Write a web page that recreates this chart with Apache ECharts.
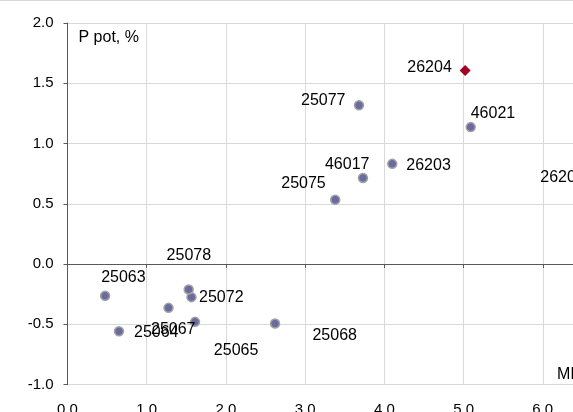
<!DOCTYPE html>
<html><head><meta charset="utf-8">
<script src="https://cdn.jsdelivr.net/npm/echarts@6/dist/echarts.min.js"></script>
<style>html,body{margin:0;padding:0;background:#fff}#c{width:573px;height:412px}</style>
</head><body><div id="c"></div>
<script>
// ---- data ----
const wellNames  = ['25075','25077','46017','46021','26203','26205','25063','25064','25067','25072','25078','25065','25068'];
const micValues  = [3.38, 3.68, 3.73, 5.09, 4.10, 6.60, 0.475, 0.65, 1.275, 1.565, 1.53, 1.61, 2.62];
const ppotValues = [0.533, 1.317, 0.714, 1.136, 0.831, 0.72, -0.264, -0.558, -0.364, -0.275, -0.211, -0.48, -0.494];
const highlightNames = ['26204'];
const highlightMic   = [5.02];
const highlightPpot  = [1.606];
const yAxisTitle = 'P pot, %';
const xAxisTitle = 'MIC';

// ---- label placement (layout, not data) ----
const labelOffsets = {
  '25075': [-31, -15], '25077': [-35, -4], '46017': [-15, -13], '46021': [23, -13],
  '26203': [37, 2], '26205': [-27, 1], '25063': [19, -17.5], '25064': [38, 2],
  '25067': [5.5, 22], '25072': [30.6, 1], '25078': [0.9, -33], '25065': [41.8, 30],
  '25068': [60.4, 12.5], '26204': [-35.6, -3]
};

const FONT = '"Liberation Sans", Arial, sans-serif';
function pts(names, xs, ys, size) {
  return names.map((n, i) => {
    const o = labelOffsets[n] || [0, 0];
    return {
      name: n, value: [xs[i], ys[i]],
      label: { position: [o[0] + size / 2, o[1] + size / 2] }
    };
  });
}
const fmt1 = v => v.toFixed(1);

const chart = echarts.init(document.getElementById('c'), null, { renderer: 'canvas' });
chart.setOption({
  animation: false,
  backgroundColor: '#ffffff',
  grid: { left: 67.5, top: 23, bottom: 27.5, right: -49, containLabel: false, outerBoundsMode: 'none' },
  xAxis: [
    {
      type: 'value', min: 0, max: 7, interval: 1, position: 'bottom',
      axisLine: { show: false, onZero: false }, axisTick: { show: false },
      axisLabel: { formatter: fmt1, fontSize: 15, color: '#000', fontFamily: FONT, margin: 18 },
      splitLine: { show: true, lineStyle: { color: '#d9d9d9', width: 1 } }
    },
    {
      type: 'value', min: 0, max: 7, interval: 1, position: 'top',
      axisLine: { show: true, onZero: true, lineStyle: { color: '#595959', width: 1 } },
      axisTick: { show: true, inside: true, length: 4, lineStyle: { color: '#595959' } },
      axisLabel: { show: false }, splitLine: { show: false }
    }
  ],
  yAxis: {
    type: 'value', min: -1, max: 2, interval: 0.5,
    axisLine: { show: true, onZero: false, lineStyle: { color: '#595959', width: 1 } },
    axisTick: { show: true, length: 4, lineStyle: { color: '#595959' } },
    axisLabel: { formatter: fmt1, fontSize: 15, color: '#000', fontFamily: FONT, margin: 14 },
    splitLine: { show: true, lineStyle: { color: '#d9d9d9', width: 1 } }
  },
  graphic: [
    { type: 'rect', left: 0, top: 0, shape: { width: 573, height: 1 }, style: { fill: '#d9d9d9' }, silent: true },
    { type: 'text', left: 78.5, top: 30, style: { text: yAxisTitle, font: '16px ' + FONT, fill: '#000' } },
    { type: 'text', left: 557, top: 367, style: { text: xAxisTitle, font: '16px ' + FONT, fill: '#000' } }
  ],
  series: [
    {
      type: 'scatter', xAxisIndex: 0, symbol: 'circle', symbolSize: 9,
      itemStyle: { color: '#6a6a9e', borderColor: '#a3a3a3', borderWidth: 1.5, opacity: 1 },
      label: { show: true, formatter: p => p.name, fontSize: 16, color: '#000',
               fontFamily: FONT, align: 'center', verticalAlign: 'middle' },
      labelLayout: { hideOverlap: false },
      data: pts(wellNames, micValues, ppotValues, 9)
    },
    {
      type: 'scatter', xAxisIndex: 0, symbol: 'diamond', symbolSize: 11,
      itemStyle: { color: '#a50021', opacity: 1 },
      label: { show: true, formatter: p => p.name, fontSize: 16, color: '#000',
               fontFamily: FONT, align: 'center', verticalAlign: 'middle' },
      data: pts(highlightNames, highlightMic, highlightPpot, 11)
    }
  ]
});
</script></body></html>
